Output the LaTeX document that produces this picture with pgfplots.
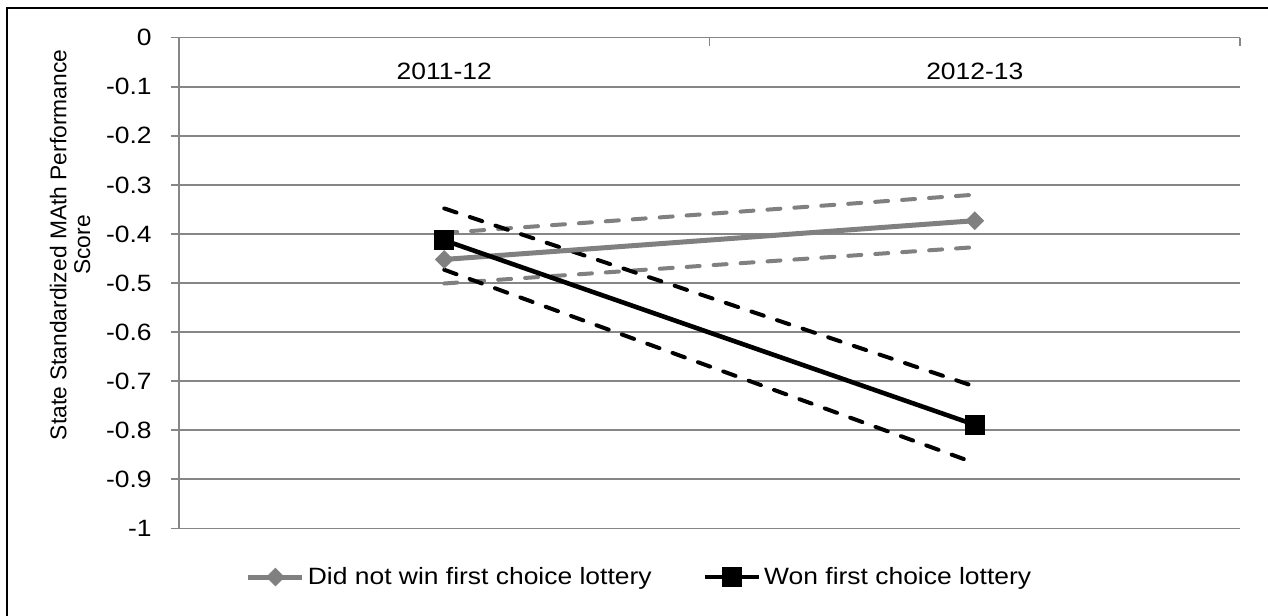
\documentclass[border=0pt]{standalone}
\usepackage{pgfplots}
\pgfplotsset{compat=1.18}
\usepackage{fontspec}
\setmainfont{Liberation Sans}[FakeStretch=1.12]
\newfontfamily\labelfont{Liberation Sans}

\definecolor{gridgray}{RGB}{134,134,134}
\definecolor{seriesgray}{RGB}{128,128,128}

\begin{document}
\begin{tikzpicture}
\path[use as bounding box] (0bp,0bp) rectangle (634bp,308bp);
% frame of the chart area (left and top edges)
\draw[black, line width=1.1bp] (3.5bp,-2bp) -- (3.5bp,303.85bp) -- (640bp,303.85bp);
\begin{axis}[
  at={(89.5bp,43.85bp)}, anchor=south west,
  scale only axis, width=530.5bp, height=245.3bp,
  xmin=-0.5, xmax=1.5, ymin=-1, ymax=0,
  axis x line*=top, axis y line*=left,
  xtick=\empty,
  ytick={-1,-0.9,-0.8,-0.7,-0.6,-0.5,-0.4,-0.3,-0.2,-0.1,0},
  yticklabels={-1,-0.9,-0.8,-0.7,-0.6,-0.5,-0.4,-0.3,-0.2,-0.1,0},
  ymajorgrids,
  grid style={gridgray, line width=0.75bp},
  axis line style={gridgray, line width=0.75bp},
  tick style={gridgray, line width=0.75bp},
  major tick length=4bp, tick align=outside,
  yticklabel style={font=\fontsize{11.8bp}{13bp}\selectfont, inner sep=0pt, xshift=-9.5bp},
  clip=false,
  legend columns=2,
  legend style={at={(0.4345,-0.0993)}, anchor=center, draw=none, fill=none,
    font=\fontsize{11.8bp}{14bp}\selectfont, inner sep=0pt,
    /tikz/every even column/.append style={column sep=24bp},
    nodes={inner sep=1.5bp}},
  legend image code/.code={\draw[mark repeat=2,mark phase=2] plot coordinates {(0bp,0bp) (13.5bp,0bp) (27bp,0bp)};},
]
% confidence bands
\addplot[seriesgray, line width=2bp, dash pattern=on 6.5bp off 7bp, line cap=round, forget plot]
  coordinates {(0,-0.398) (1,-0.320)};
\addplot[seriesgray, line width=2bp, dash pattern=on 6.5bp off 7bp, line cap=round, forget plot]
  coordinates {(0,-0.501) (1,-0.427)};
\addplot[black, line width=2bp, dash pattern=on 6.5bp off 7bp, line cap=round, forget plot]
  coordinates {(0,-0.348) (1,-0.711)};
\addplot[black, line width=2bp, dash pattern=on 6.5bp off 7bp, line cap=round, forget plot]
  coordinates {(0,-0.473) (1,-0.867)};
% group means
\addplot[seriesgray, line width=2.5bp, mark=square*, mark size=3.06bp,
  mark options={rotate=45, solid, line width=0.5bp, fill=seriesgray}]
  coordinates {(0,-0.452) (1,-0.373)};
\addlegendentry{Did not win first choice lottery}
\addplot[black, line width=2.3bp, mark=square*, mark size=4.75bp,
  mark options={solid, line width=0.5bp, fill=black}]
  coordinates {(0,-0.413) (1,-0.789)};
\addlegendentry{Won first choice lottery}
% category boundaries and names along the top axis
\draw[gridgray, line width=0.75bp] (axis cs:0.5,0) -- ++(0bp,-4bp);
\draw[gridgray, line width=0.75bp] (axis cs:1.5,0) -- ++(0bp,-4bp);
\node[font=\fontsize{11.8bp}{13bp}\selectfont] at (axis cs:0,-0.068) {2011-12};
\node[font=\fontsize{11.8bp}{13bp}\selectfont] at (axis cs:1,-0.068) {2012-13};
\end{axis}
\node[rotate=90, align=center, font=\labelfont\fontsize{11.4bp}{11.9bp}\selectfont] at (35bp,185.5bp)
  {State Standardized MAth Performance\\Score};
\end{tikzpicture}
\end{document}
